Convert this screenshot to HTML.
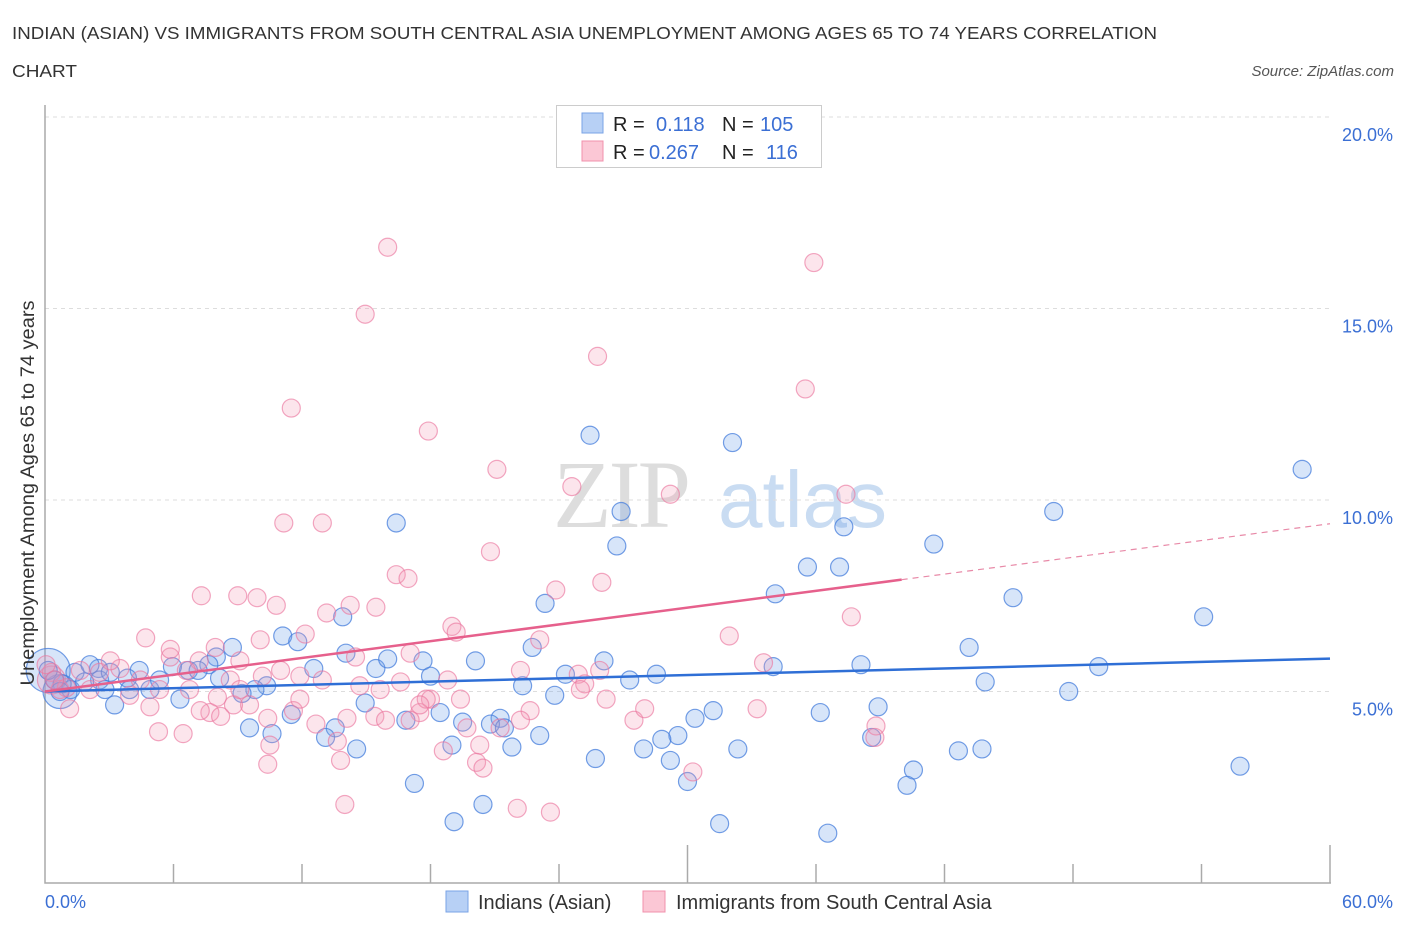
<!DOCTYPE html>
<html><head><meta charset="utf-8"><style>
body{margin:0;background:#fff;font-family:"Liberation Sans",sans-serif;}
svg{display:block}
</style></head><body>
<svg id="chart" width="1406" height="930">
<text x="12" y="39" font-size="17.5" fill="#333" textLength="1145" lengthAdjust="spacingAndGlyphs">INDIAN (ASIAN) VS IMMIGRANTS FROM SOUTH CENTRAL ASIA UNEMPLOYMENT AMONG AGES 65 TO 74 YEARS CORRELATION</text>
<text x="12" y="77" font-size="17.5" fill="#333" textLength="65" lengthAdjust="spacingAndGlyphs">CHART</text>
<text x="1394" y="76" font-size="15" fill="#555" font-style="italic" text-anchor="end">Source: ZipAtlas.com</text>
<g>
<text x="553" y="527" font-size="96" font-family="Liberation Serif,serif" fill="#ddd" letter-spacing="-3">ZIP</text>
<text x="718" y="527" font-size="80" fill="#c9dcf2">atlas</text>
</g>
<g id="grid"></g>
<g id="axes"></g>
<g id="pts"></g>
<g id="trend"></g>
<g>
<rect x="556.5" y="105.5" width="265" height="62" fill="#fff" stroke="#ccc"/>
<rect x="582" y="113" width="21" height="20" fill="#b7d0f5" stroke="#7aa3e6"/>
<rect x="582" y="141" width="21" height="20" fill="#fbc7d5" stroke="#f090ac"/>
<text y="131" font-size="20" fill="#222"><tspan x="613">R = </tspan><tspan x="656" fill="#3b6fd4">0.118</tspan><tspan x="722">N = </tspan><tspan x="760" fill="#3b6fd4">105</tspan></text>
<text y="159" font-size="20" fill="#222"><tspan x="613">R = </tspan><tspan x="649" fill="#3b6fd4">0.267</tspan><tspan x="722">N = </tspan><tspan x="766" fill="#3b6fd4">116</tspan></text>
</g>
<g>
<rect x="446" y="891" width="22" height="21" fill="#b7d0f5" stroke="#7aa3e6"/>
<text x="478" y="909" font-size="20" fill="#333">Indians (Asian)</text>
<rect x="643" y="891" width="22" height="21" fill="#fbc7d5" stroke="#f090ac"/>
<text x="676" y="909" font-size="20" fill="#333">Immigrants from South Central Asia</text>
</g>
<text transform="translate(34,493) rotate(-90)" font-size="19" fill="#333" text-anchor="middle" textLength="385" lengthAdjust="spacingAndGlyphs">Unemployment Among Ages 65 to 74 years</text>
</svg>
<script>
const blueX=[25.45,32.1,58.7,16.4,26.9,37.3,47.1,26.7,41.5,35.6,37.1,34.1,45.2,54.1,23.35,13.9,11.1,11.8,8.75,22.75,43.15,26.1,17.65,20.1,14.05,15.45,16.0,12.55,8.0,7.65,6.7,5.95,4.4,3.85,2.5,2.55,49.2,38.1,34.0,28.55,27.3,24.3,22.3,18.0,10.35,9.8,9.2,8.15,7.15,43.9,47.8,23.8,14.95,38.9,31.2,30.35,36.2,18.45,16.85,19.5,21.25,20.8,21.45,11.5,9.55,10.6,13.55,13.1,14.55,23.1,29.55,28.8,27.95,32.35,38.6,42.65,43.75,55.8,40.55,25.7,29.2,21.8,19.0,30.0,40.25,17.25,20.45,19.1,31.5,36.55,3.25,6.3,4.9,1.2,0.8,1.4,1.85,0.45,0.15,0.7,3.05,2.1,2.8,5.35,3.95];
const blueY=[11.69,11.5,10.8,9.4,9.7,9.3,9.7,8.8,8.85,8.25,8.25,7.55,7.45,6.95,7.3,6.95,6.45,6.3,6.15,6.15,6.15,5.8,5.8,5.8,6.0,5.6,5.85,5.6,5.9,5.7,5.55,5.65,5.55,5.35,5.6,5.3,5.65,5.7,5.65,5.45,5.3,5.45,5.15,5.4,5.15,5.05,4.95,5.35,5.55,5.25,5.0,4.9,4.7,4.6,4.5,4.3,4.45,4.45,4.25,4.2,4.3,4.15,4.05,4.4,4.05,3.9,4.05,3.8,3.5,3.85,3.85,3.75,3.5,3.5,3.8,3.45,3.5,3.05,2.95,3.25,3.2,3.55,3.6,2.65,2.55,2.6,2.05,1.6,1.55,1.3,4.65,4.8,5.05,5.05,5.2,5.5,5.25,5.3,5.55,5.0,5.5,5.7,5.05,5.3,5.05];
const blueSize=[0.15,5.55,22, 0.7,5.0,17];
const pinkX=[16.0,35.9,14.95,25.8,35.5,11.5,17.9,21.1,24.6,29.2,37.4,11.15,12.95,20.8,16.4,16.95,23.85,26.0,7.3,9.0,9.9,10.8,14.25,13.15,15.45,37.65,19.0,19.2,12.15,4.7,23.1,31.95,7.95,5.85,7.2,9.1,6.6,8.65,10.15,11.0,11.9,12.95,14.5,17.05,22.2,24.9,25.2,18.8,18.0,14.7,16.6,33.55,3.5,1.65,2.55,4.45,5.35,6.75,8.05,9.55,8.8,7.7,8.2,10.4,11.6,12.65,14.1,15.4,15.9,17.5,17.8,19.7,21.25,22.65,26.2,27.5,28.0,33.25,38.8,5.3,6.45,10.5,13.65,18.6,20.15,20.45,13.8,10.4,14.0,22.05,23.6,30.25,38.75,1.15,0.7,0.3,0.05,1.0,3.05,3.95,0.45,2.1,4.9,5.85,7.25,9.1,10.05,11.9,15.65,17.05,17.5,20.3,19.4,22.2,25.0,25.9];
const pinkY=[16.6,16.2,14.85,13.75,12.9,12.4,11.8,10.8,10.35,10.15,10.15,9.4,9.4,8.65,8.05,7.95,7.65,7.85,7.5,7.5,7.45,7.25,7.25,7.05,7.2,6.95,6.7,6.55,6.5,6.4,6.35,6.45,6.15,5.9,5.8,5.8,5.55,5.3,5.4,5.55,5.4,5.3,5.9,6.0,5.55,5.45,5.2,5.3,4.8,5.15,5.25,5.75,5.6,5.55,5.5,5.3,5.05,5.05,4.85,4.65,4.65,4.45,4.35,4.3,4.5,4.15,4.3,4.35,4.25,4.45,4.8,4.05,4.05,4.5,4.8,4.25,4.55,4.55,4.1,3.95,3.9,3.6,3.7,3.45,3.15,3.0,3.2,3.1,2.05,1.95,1.85,2.9,3.8,4.55,5.05,5.5,5.7,5.1,5.8,4.9,5.3,5.05,4.6,6.1,4.5,5.05,6.35,4.8,5.05,4.25,4.65,3.6,4.8,4.25,5.05,5.55];
const pinkSize=[0.3,5.3,14];
const yTicks=[5,10,15,20];
const yTickLabels=["5.0%","10.0%","15.0%","20.0%"];
const xTicks=[0,6,12,18,24,30,36,42,48,54,60];
const blueTrend=[5.0,0.0143];
const pinkTrend=[5.0,0.073];
const pinkSolidEnd=40;

const X0=45,X1=1330,YB=883;
const sx=v=>X0+(v/60)*(X1-X0);
const sy=v=>YB-v*38.3;
const NS="http://www.w3.org/2000/svg";
function mk(tag,attrs,parent){const e=document.createElementNS(NS,tag);for(const k in attrs)e.setAttribute(k,attrs[k]);parent.appendChild(e);return e;}
const grid=document.getElementById('grid'),axes=document.getElementById('axes'),pts=document.getElementById('pts'),tr=document.getElementById('trend');
yTicks.forEach((t,i)=>{
 const l=mk('line',{x1:X0,x2:X1,y1:sy(t),y2:sy(t),stroke:'#ddd','stroke-dasharray':'4,4'},grid);
 
 
 const tx=mk('text',{x:1393,y:sy(t)+24,'font-size':18,fill:'#3b6fd4','text-anchor':'end'},grid);
 tx.textContent=yTickLabels[i];
 
 
});
const ax=mk('path',{d:`M${X0} 105V${YB}H${X1+1}`,stroke:'#aaa',fill:'none','stroke-width':1.5},axes);


xTicks.forEach((t,i)=>{
 if(i===0)return;
 const big=(t===30||t===60);
 const l=mk('line',{x1:sx(t),x2:sx(t),y1:big?845:864,y2:YB,stroke:'#aaa','stroke-width':1.5},axes);
 
 
});
const xl0=mk('text',{x:45,y:908,'font-size':18,fill:'#3b6fd4'},axes);xl0.textContent='0.0%';


const xl1=mk('text',{x:1393,y:908,'font-size':18,fill:'#3b6fd4','text-anchor':'end'},axes);xl1.textContent='60.0%';



function dot(x,y,r,fill,stroke,name){
 const c=mk('circle',{cx:sx(x),cy:sy(y),r:r,fill:fill,stroke:stroke,'stroke-width':1.2},pts);
 
 
}
const bF='rgba(110,160,235,0.28)',bS='rgba(70,125,220,0.75)',pF='rgba(245,150,180,0.25)',pS='rgba(235,120,160,0.65)';
dot(blueSize[0],blueSize[1],blueSize[2],bF,bS,'blue-point-large');
dot(blueSize[3],blueSize[4],blueSize[5],bF,bS,'blue-point-large');
dot(pinkSize[0],pinkSize[1],pinkSize[2],pF,pS,'pink-point-large');
blueX.forEach((x,i)=>dot(x,blueY[i],9,bF,bS,'indians-point'));
pinkX.forEach((x,i)=>dot(x,pinkY[i],9,pF,pS,'immigrants-point'));

const bl=mk('line',{x1:sx(0),y1:sy(blueTrend[0]),x2:sx(60),y2:sy(blueTrend[0]+blueTrend[1]*60),stroke:'#2f6fd6','stroke-width':2.5},tr);


const pl=mk('line',{x1:sx(0),y1:sy(pinkTrend[0]),x2:sx(pinkSolidEnd),y2:sy(pinkTrend[0]+pinkTrend[1]*pinkSolidEnd),stroke:'#e6608c','stroke-width':2.5},tr);


const pd=mk('line',{x1:sx(pinkSolidEnd),y1:sy(pinkTrend[0]+pinkTrend[1]*pinkSolidEnd),x2:sx(60),y2:sy(pinkTrend[0]+pinkTrend[1]*60),stroke:'#e88aa8','stroke-width':1.2,'stroke-dasharray':'6,5'},tr);


</script>
</body></html>
